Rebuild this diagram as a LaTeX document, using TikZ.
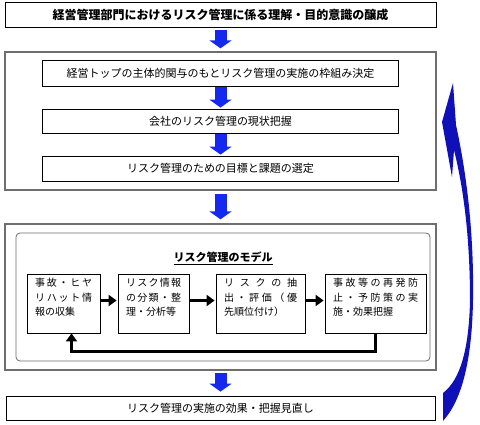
\documentclass[tikz,border=0pt]{standalone}
\usepackage{fontspec}
\setmainfont{Noto Sans CJK JP}
\usetikzlibrary{arrows.meta}
\definecolor{rkFlow}{HTML}{1428F0}
\definecolor{rkLoop}{HTML}{1010B8}
\definecolor{rkFrame}{HTML}{6E6E6E}
\tikzset{
  rk diagram/.style={x=1pt, y=-1pt, font=\fontsize{11}{13}\selectfont},
  rk box/.style={draw=black, fill=white, line width=0.8pt, inner sep=0pt,
    minimum height=25pt},
  rk frame/.style={draw=rkFrame, fill=white, line width=1.3pt, inner sep=0pt},
  rk model frame/.style={draw=rkFrame, line width=0.8pt, rounded corners=4pt,
    inner sep=0pt},
  rk step box/.style={rk box, align=left, inner xsep=8pt, inner ysep=4pt,
    text height=9pt, text depth=42pt, font=\fontsize{10}{14.5}\selectfont},
  rk flow/.style={draw=rkFlow, line width=12pt,
    -{Triangle[length=8pt,width=22pt]}},
  rk arrow/.style={draw=black, line width=3.8pt,
    -{Triangle[length=8pt,width=11pt]}}
}

\begin{document}
\begin{tikzpicture}[rk diagram]
\useasboundingbox (0,0) rectangle (480,425);
\node[rk box,minimum width=431pt,font=\bfseries\fontsize{12}{14}\selectfont] (aim) at (220.5,14.5) {経営管理部門におけるリスク管理に係る理解・目的意識の醸成};
% planning stage
\node[rk frame,minimum width=431pt,minimum height=138pt] (plan) at (220.5,121) {};
\node[rk box,minimum width=356pt,minimum height=26pt] (decide) at (220.5,73) {経営トップの主体的関与のもとリスク管理の実施の枠組み決定};
\node[rk box,minimum width=356pt,minimum height=24pt] (survey) at (220.5,121) {会社のリスク管理の現状把握};
\node[rk box,minimum width=356pt] (target) at (220.5,168.5) {リスク管理のための目標と課題の選定};
% model stage
\node[rk frame,minimum width=431pt,minimum height=146pt] (model) at (220.5,297) {};
\node[rk model frame,minimum width=414pt,minimum height=128pt] (model inner) at (223,297) {};
\node[font=\bfseries\fontsize{11}{13}\selectfont] (model title) at (223,258) {\underline{リスク管理のモデル}};
\node[rk step box,text width=57pt] (collect) at (63.5,303.5) {事\hfill 故\hfill ・\hfill ヒ\hfill ヤ\\リ\hfill ハ\hfill ッ\hfill ト\hfill 情\\報の収集};
\node[rk step box,text width=55pt] (sort) at (153.5,303.5) {リ\hfill ス\hfill ク\hfill 情\hfill 報\\の\hfill 分\hfill 類\hfill ・\hfill 整\\理・分析等};
\node[rk step box,text width=73pt] (assess) at (260.5,303.5) {リ\hfill ス\hfill ク\hfill の\hfill 抽\\出\hfill ・\hfill 評\hfill 価\hfill （\hfill 優\\先順位付け）};
\node[rk step box,text width=85pt] (prevent) at (375.5,303.5) {事\hfill 故\hfill 等\hfill の\hfill 再\hfill 発\hfill 防\\止\hfill ・\hfill 予\hfill 防\hfill 策\hfill の\hfill 実\\施・効果把握};
\node[rk box,minimum width=429pt,minimum height=24pt] (review) at (220.5,408) {リスク管理の実施の効果・把握見直し};
% flow between stages
\draw[rk flow,shorten <=3pt,shorten >=3pt] (aim) -- (plan);
\draw[rk flow,shorten <=1pt,shorten >=1pt] (decide) -- (survey);
\draw[rk flow,shorten <=1pt,shorten >=1pt] (survey) -- (target);
\draw[rk flow,shorten <=3pt,shorten >=4pt] (plan) -- (model);
\draw[rk flow,shorten <=2pt,shorten >=4pt] (model) -- (review);
\foreach \a/\b in {collect/sort,sort/assess,assess/prevent}
  \draw[rk arrow,shorten <=1pt,shorten >=1pt] ([yshift=3pt]\a.east) -- ([yshift=3pt]\b.west);
\draw[rk arrow] (prevent.south) -- ++(0,18) -| ([xshift=8pt]collect.south);
% loop back to planning
\coordinate (loop foot) at (443,421);
\coordinate (loop tip) at (453,83);
\fill[rkLoop] (loop foot) .. controls (462,400) and (472,360) .. (473,300)
  .. controls (474,240) and (468,180) .. (456,125) -- (loop tip) -- (442,122)
  -- (452,177) -- (454,150) .. controls (464,190) and (470,240) .. (470,300)
  .. controls (469,350) and (460,380) .. (443,393) -- cycle;
\end{tikzpicture}
\end{document}
